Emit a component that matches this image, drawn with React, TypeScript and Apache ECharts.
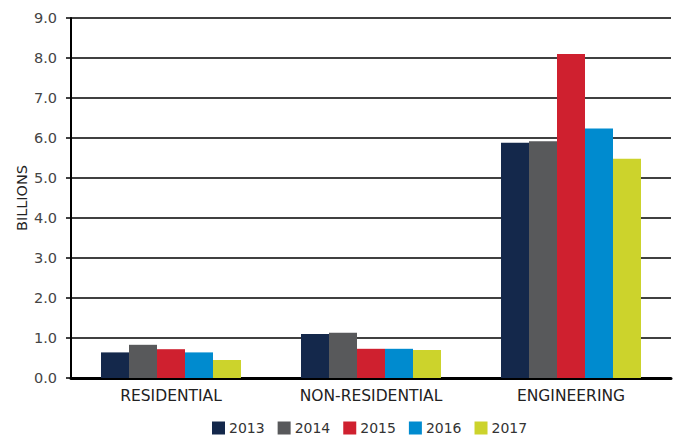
import React, { useEffect, useRef } from "react";
import * as echarts from "echarts";

const categories = ["RESIDENTIAL", "NON-RESIDENTIAL", "ENGINEERING"];
const years = ["2013", "2014", "2015", "2016", "2017"];
const colors = ["#14284b", "#58595b", "#cf202f", "#008bcf", "#ccd32c"];
const v2013 = [0.64, 1.1, 5.88];
const v2014 = [0.83, 1.13, 5.92];
const v2015 = [0.72, 0.73, 8.1];
const v2016 = [0.64, 0.73, 6.24];
const v2017 = [0.45, 0.7, 5.48];
const seriesValues = [v2013, v2014, v2015, v2016, v2017];

export default function App() {
  const ref = useRef<HTMLDivElement>(null);
  useEffect(() => {
    const chart = echarts.init(ref.current!, null, { renderer: "svg" });
    const font = "'DejaVu Sans', sans-serif";
    chart.setOption({
      animation: false,
      textStyle: { fontFamily: font },
      grid: { left: 71, right: 4, top: 18, bottom: 58 },
      legend: {
        top: 421,
        left: 212,
        padding: 0,
        itemWidth: 13,
        itemHeight: 13,
        itemGap: 13,
        icon: "rect",
        textStyle: { fontSize: 14, color: "#333", fontFamily: font, padding: [0, 0, 0, -1] },
        data: years,
      },
      xAxis: {
        type: "category",
        data: categories,
        axisLine: { lineStyle: { color: "#000", width: 3 } },
        axisTick: { show: false },
        axisLabel: { fontSize: 15.5, color: "#222", margin: 10, fontFamily: font },
      },
      yAxis: {
        type: "value",
        min: 0,
        max: 9,
        interval: 1,
        name: "BILLIONS",
        nameLocation: "middle",
        nameGap: 42,
        nameMoveOverlap: false,
        nameTextStyle: { fontSize: 14.5, color: "#222", fontFamily: font },
        axisLine: { show: true, lineStyle: { color: "#000", width: 2 } },
        axisTick: { show: true, length: 5, lineStyle: { color: "#000", width: 1.5 } },
        axisLabel: {
          fontSize: 14.5,
          color: "#444",
          margin: 14,
          fontFamily: font,
          formatter: (v: number) => v.toFixed(1),
        },
        splitLine: { lineStyle: { color: "#000", width: 1.5 } },
      },
      series: years.map((y, i) => ({
        name: y,
        type: "bar",
        data: seriesValues[i],
        barWidth: 28,
        barGap: "0%",
        itemStyle: { color: colors[i] },
      })),
    });
    return () => chart.dispose();
  }, []);
  return (
    <div
      ref={ref}
      style={{ position: "absolute", left: 0, top: 0, width: 675, height: 436 }}
    />
  );
}
